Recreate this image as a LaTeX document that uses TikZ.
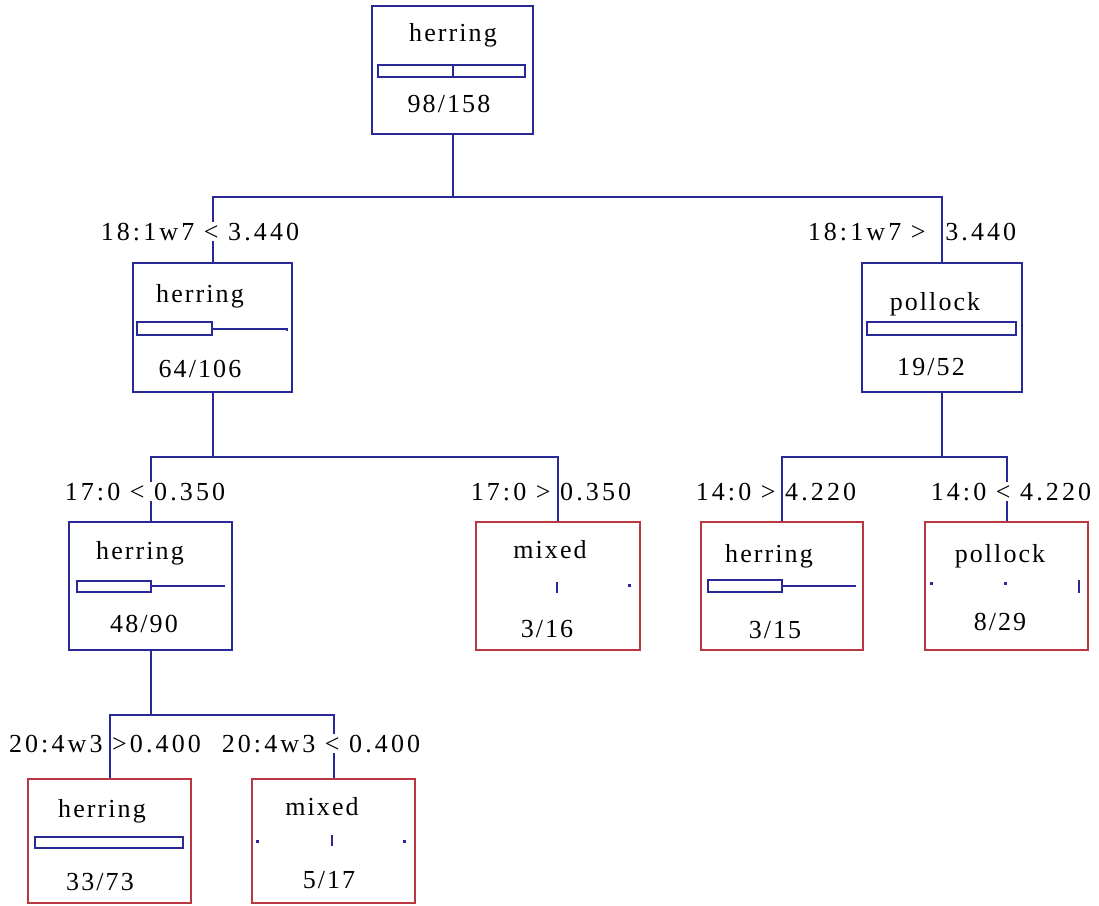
\documentclass[tikz,border=0pt]{standalone}
\usepackage{fontspec}
\newfontfamily\boxfont[LetterSpace=8]{Liberation Serif}
\newfontfamily\cutfont[LetterSpace=12]{Liberation Serif}
\definecolor{treeblue}{RGB}{40,40,150}
\definecolor{leafred}{RGB}{185,55,65}

\begin{document}
\begin{tikzpicture}[x=1pt,y=-1pt,
  splitbox/.style={draw=treeblue, line width=2pt, rectangle, inner sep=0pt, minimum height=128pt},
  leafbox/.style={draw=leafred, line width=2pt, rectangle, inner sep=0pt, minimum height=128pt},
  edge/.style={draw=treeblue, line width=2pt},
  bar/.style={draw=treeblue, line width=1.8pt},
  dot/.style={fill=treeblue},
  boxtext/.style={font=\boxfont\fontsize{26}{26}\selectfont, anchor=base, inner sep=0pt},
  cut/.style={font=\cutfont\fontsize{26}{26}\selectfont, anchor=base, inner sep=1pt},
  cutmask/.style={cut, fill=white}]

\useasboundingbox (0,0) rectangle (1099,905);

% ---- boxes ----
\node[splitbox, minimum width=161pt] (root) at (452.5,70) {};
\node[splitbox, minimum width=159pt, minimum height=129pt] (hl) at (212.5,327.5) {};
\node[splitbox, minimum width=160pt, minimum height=129pt] (pl) at (942,327.5) {};
\node[splitbox, minimum width=163pt] (h2) at (150.5,586) {};
\node[leafbox, minimum width=164pt] (m2) at (558,586) {};
\node[leafbox, minimum width=162pt] (h3) at (782,586) {};
\node[leafbox, minimum width=163pt] (p3) at (1006.5,586) {};
\node[leafbox, minimum width=163pt, minimum height=124pt] (h4) at (109.5,841) {};
\node[leafbox, minimum width=163pt, minimum height=124pt] (m4) at (333.5,841) {};

% ---- junctions ----
\coordinate (j0) at (452.5,197);
\coordinate (j1) at (212.5,457);
\coordinate (j2) at (942,457);
\coordinate (j3) at (150.5,715);

% ---- connectors ----
\draw[edge] (root.south) -- (j0);
\draw[edge] (j0) -| (hl.north);
\draw[edge] (j0) -| (pl.north);
\draw[edge] (hl.south) -- (j1);
\draw[edge] (j1) -| (h2.north);
\draw[edge] (j1) -| (m2.north);
\draw[edge] (pl.south) -- (j2);
\draw[edge] (j2) -| (h3.north);
\draw[edge] (j2) -| (p3.north);
\draw[edge] (h2.south) -- (j3);
\draw[edge] (j3) -| (h4.north);
\draw[edge] (j3) -| (m4.north);

% ---- split labels ----
\node[cutmask] (c1) at (200,240) {18:1w7 < 3.440};
\node[cut] (c2) at (912,240) {18:1w7 >\hspace{10pt} 3.440};
\node[cutmask] (c3) at (145,500) {17:0 < 0.350};
\node[cut] (c4) at (551,500) {17:0 > 0.350};
\node[cut] (c5) at (776,500) {14:0 > 4.220};
\node[cutmask] (c6) at (1011,500) {14:0 < 4.220};
\node[cut] (c7) at (105,752) {20:4w3 >0.400};
\node[cutmask] (c8) at (321,752) {20:4w3 < 0.400};

% ---- box contents ----
% root
\node[boxtext] (root-name) at (453,41) {herring};
\draw[bar] (378,65) rectangle (525,77);
\draw[bar] (453,65) -- (453,77);
\node[boxtext] (root-n) at (449,112) {98/158};
% left split
\node[boxtext] (hl-name) at (200,302) {herring};
\draw[bar] (137,322) rectangle (212,335);
\draw[bar] (212,329) -- (287,329) -- (287,331);
\node[boxtext] (hl-n) at (200,377) {64/106};
% right split
\node[boxtext] (pl-name) at (935,310) {pollock};
\draw[bar] (867,322) rectangle (1016,335);
\node[boxtext] (pl-n) at (931,375) {19/52};
% second-level herring
\node[boxtext] (h2-name) at (140,559) {herring};
\draw[bar] (77,581) rectangle (151,592);
\draw[bar] (151,586) -- (225,586);
\node[boxtext] (h2-n) at (144,632) {48/90};
% mixed 3/16
\node[boxtext] (m2-name) at (550,558) {mixed};
\draw[bar] (557,582) -- (557,593);
\fill[dot] (628,584) rectangle ++(2.5,2.5);
\node[boxtext] (m2-n) at (547,637) {3/16};
% herring 3/15
\node[boxtext] (h3-name) at (769,562) {herring};
\draw[bar] (708,580) rectangle (782,592);
\draw[bar] (782,586) -- (856,586);
\node[boxtext] (h3-n) at (775,638) {3/15};
% pollock 8/29
\node[boxtext] (p3-name) at (1000,562) {pollock};
\fill[dot] (930,582) rectangle ++(2.5,2.5);
\fill[dot] (1004,582) rectangle ++(2.5,2.5);
\draw[bar] (1079,580) -- (1079,593);
\node[boxtext] (p3-n) at (1000,630) {8/29};
% herring 33/73
\node[boxtext] (h4-name) at (102,817) {herring};
\draw[bar] (35,837) rectangle (183,848);
\node[boxtext] (h4-n) at (100,890) {33/73};
% mixed 5/17
\node[boxtext] (m4-name) at (322,815) {mixed};
\fill[dot] (256,840) rectangle ++(2.5,2.5);
\draw[bar] (332,835) -- (332,846);
\fill[dot] (403,840) rectangle ++(2.5,2.5);
\node[boxtext] (m4-n) at (329,888) {5/17};
\end{tikzpicture}
\end{document}
